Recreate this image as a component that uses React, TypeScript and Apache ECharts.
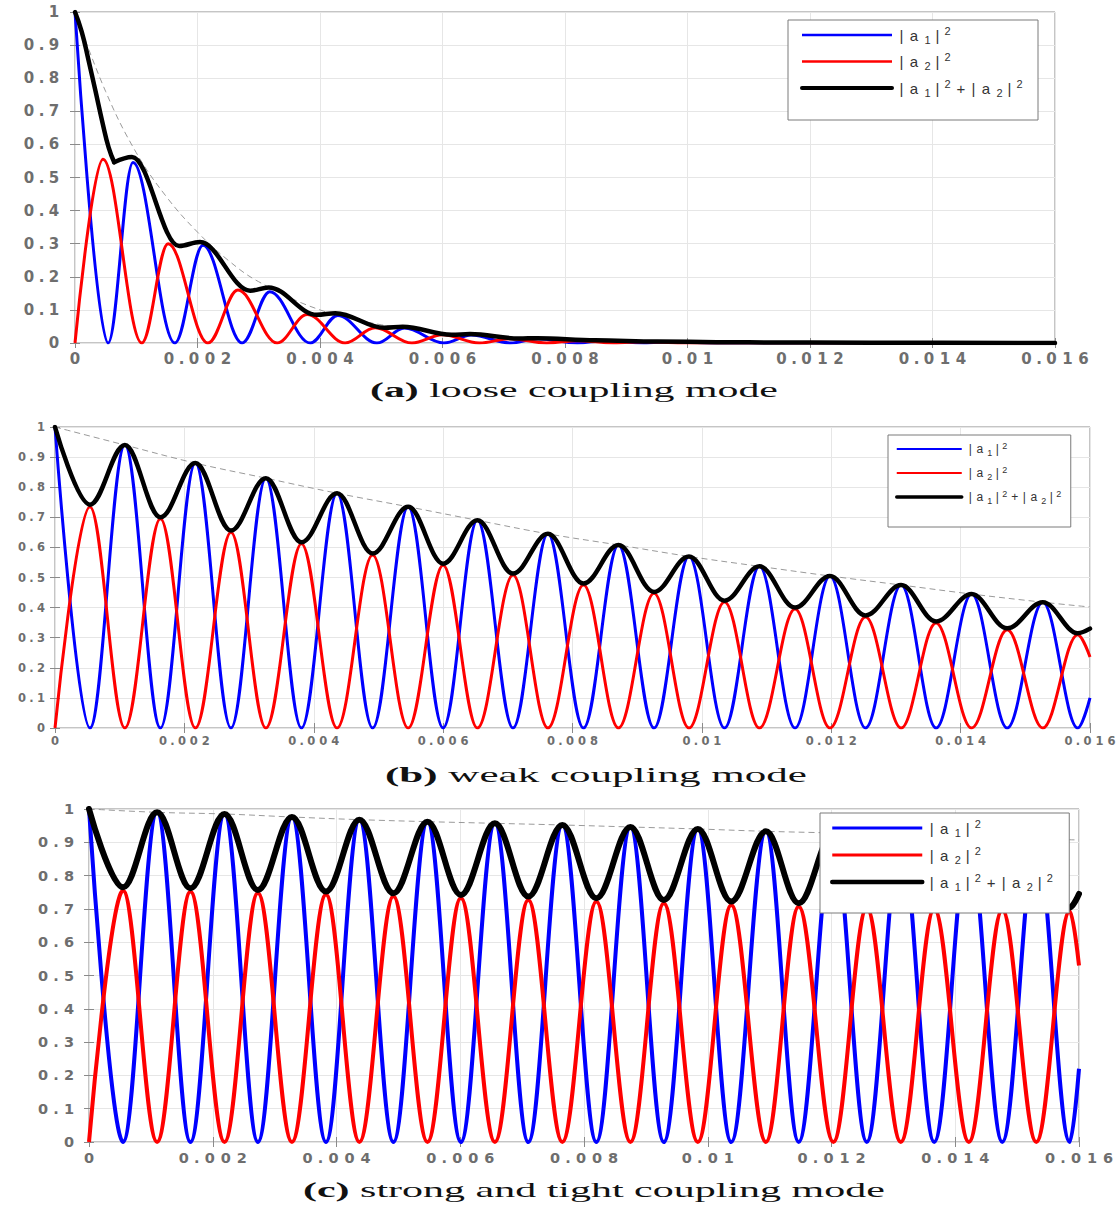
import React, { useEffect, useRef } from "react";
import * as echarts from "echarts";

// ---------------- shared axis ranges ----------------
const X_MIN = 0;
const X_MAX = 0.016;
const X_STEP = 0.002;
const Y_MIN = 0;
const Y_MAX = 1;
const Y_STEP = 0.1;

const LABELS: Record<string, string> = {
  a1: "|a₁|²",
  a2: "|a₂|²",
  sum: "|a₁|²+|a₂|²",
};

const CAPTIONS = [
  { tag: "(a)", text: " loose coupling mode" },
  { tag: "(b)", text: " weak coupling mode" },
  { tag: "(c)", text: " strong and tight coupling mode" },
];

// value at which the oscillating curves touch the axis (read: 0)
const TROUGH = 0;

// ---------------- panel (a): loose coupling ----------------
const aBluePeakX = [0, 0.000947, 0.00209, 0.00318, 0.00429, 0.00538, 0.00647, 0.00756, 0.00865, 0.00974];
const aBluePeakY = [1, 0.545, 0.295, 0.155, 0.083, 0.045, 0.024, 0.013, 0.007, 0.004];
const aBlueTroughX = [0.00054, 0.00163, 0.00273, 0.00384, 0.00493, 0.00602, 0.00711, 0.0082, 0.00929, 0.01038];
const aRedPeakX = [0.000457, 0.00152, 0.00266, 0.00379, 0.0049, 0.006, 0.0071, 0.0082, 0.0093];
const aRedPeakY = [0.555, 0.3, 0.16, 0.086, 0.046, 0.025, 0.013, 0.007, 0.004];
const aRedTroughX = [0, 0.00109, 0.00217, 0.0033, 0.00441, 0.0055, 0.0066, 0.0077, 0.0088, 0.0099];
const aEnd = { blue: 0, red: 0 };
// steep initial fall of |a1|²+|a2|²
const aBlackHeadX = [0, 0.00011, 0.00022, 0.00033, 0.00045, 0.00055, 0.00064];
const aBlackHeadY = [1, 0.94, 0.855, 0.765, 0.665, 0.59, 0.546];
// plateaus / steps of |a1|²+|a2|² afterwards (local extrema)
const aBlackX = [0.00064, 0.00093, 0.0017, 0.00204, 0.00286, 0.00316, 0.00395, 0.00425, 0.00505, 0.00535, 0.00615, 0.00645, 0.00725, 0.00755, 0.0085, 0.0095, 0.011, 0.013, 0.016];
const aBlackY = [0.546, 0.562, 0.293, 0.305, 0.158, 0.168, 0.085, 0.09, 0.046, 0.049, 0.025, 0.027, 0.0135, 0.0145, 0.008, 0.0045, 0.002, 0.0008, 0.0002];
const aEnvX = [0, 0.0005, 0.001, 0.0015, 0.002, 0.0025, 0.003, 0.004, 0.005, 0.006, 0.007, 0.008, 0.01, 0.012, 0.016];
const aEnvY = [1, 0.76, 0.575, 0.44, 0.335, 0.25, 0.185, 0.1, 0.055, 0.031, 0.017, 0.009, 0.003, 0.001, 0];

// ---------------- panel (b): weak coupling ----------------
const bBluePeakX = [0, 0.00108, 0.00217, 0.00326, 0.00436, 0.00546, 0.00653, 0.00762, 0.00871, 0.0098, 0.01089, 0.01198, 0.01308, 0.01417, 0.01527];
const bBluePeakY = [1, 0.94, 0.88, 0.83, 0.78, 0.735, 0.69, 0.645, 0.608, 0.57, 0.537, 0.505, 0.475, 0.445, 0.418];
const bRedPeakX = [0.00054, 0.00163, 0.00272, 0.00381, 0.00491, 0.006, 0.00708, 0.00817, 0.00926, 0.01035, 0.01144, 0.01253, 0.01362, 0.01472, 0.01581];
const bRedPeakY = [0.735, 0.695, 0.65, 0.612, 0.575, 0.541, 0.508, 0.475, 0.448, 0.419, 0.395, 0.369, 0.349, 0.326, 0.31];
const bBlackTroughY = [0.742, 0.7, 0.656, 0.617, 0.58, 0.546, 0.513, 0.48, 0.452, 0.423, 0.4, 0.374, 0.354, 0.331, 0.315];
const bEnd = { blue: 0.1, red: 0.236, black: 0.33, env: 0.402 };

// ---------------- panel (c): strong and tight coupling ----------------
const cBluePeakX = [0, 0.0011, 0.00219, 0.00328, 0.00437, 0.00547, 0.00656, 0.00765, 0.00875, 0.00984, 0.01094, 0.01203, 0.01312, 0.01422, 0.01531];
const cBluePeakY = [1, 0.99, 0.985, 0.976, 0.968, 0.962, 0.957, 0.952, 0.946, 0.94, 0.933, 0.928, 0.922, 0.916, 0.91];
const cRedPeakX = [0.00055, 0.00164, 0.00273, 0.00383, 0.00492, 0.00601, 0.0071, 0.0082, 0.00929, 0.01038, 0.01147, 0.01257, 0.01366, 0.01476, 0.01585];
const cRedPeakY = [0.755, 0.752, 0.748, 0.743, 0.738, 0.733, 0.727, 0.722, 0.717, 0.712, 0.707, 0.703, 0.7, 0.697, 0.694];
const cBlackTroughY = [0.765, 0.762, 0.757, 0.752, 0.747, 0.742, 0.737, 0.732, 0.727, 0.722, 0.717, 0.713, 0.71, 0.707, 0.704];
const cEnd = { blue: 0.22, red: 0.53, black: 0.745, env: 0.907 };

// ---------------- helpers ----------------
type Pt = [number, number];
const zip = (xs: number[], ys: number[]): Pt[] => xs.map((x, i) => [x, ys[i]] as Pt);
const atAxis = (xs: number[]): Pt[] => xs.map((x) => [x, TROUGH] as Pt);
const merge = (...parts: Pt[][]): Pt[] => parts.flat().sort((p, q) => p[0] - q[0]);

const spreadTick = (s: string) =>
  s
    .split("")
    .map((c) => (c === "." ? `{p|.}` : `{d|${c}}`))
    .join("");
const fmtTick = (v: number) => spreadTick(String(parseFloat(v.toFixed(6))));

const legendToken = (c: string) => {
  if (c === "|") return "{bar||}";
  if (c === "+") return "{plus|+}";
  if (c === "₁") return "{sub|1}";
  if (c === "₂") return "{sub|2}";
  if (c === "²") return "{sup|2}";
  return `{m|${c}}`;
};
const spreadLegend = (s: string) => s.split("").map(legendToken).join("");

const TICK_COLOR = "#6e6e6e";
const TICK_FONT = "'DejaVu Sans', sans-serif";
const LEGEND_FONT = "'Liberation Sans', Arial, sans-serif";

function measure(font: string, s: string) {
  const ctx = document.createElement("canvas").getContext("2d");
  if (!ctx) return s.length * 10;
  ctx.font = font;
  return ctx.measureText(s).width;
}

const PANELS = [
  {
    grid: { left: 75, top: 12, width: 980, height: 331 },
    font: 15, dw: 16, pw: 9, yMargin: 13, xMargin: 8,
    thin: 3, thick: 4.5,
    legend: {
      left: 788, top: 20, itemWidth: 90, itemHeight: 14, lineH: 20, itemGap: 6.5, padding: [5, 13, 22, 12],
      fs: 15, sfs: 11, w: { m: 16, bar: 9, sub: 11, sup: 11, plus: 16 }, thin: 2.5, thick: 4,
    },
    caption: { left: 370, width: 408, y: 390 },
  },
  {
    grid: { left: 55, top: 427, width: 1035, height: 301 },
    font: 11.5, dw: 12, pw: 7, yMargin: 8, xMargin: 7,
    thin: 3, thick: 4.5,
    legend: {
      left: 888, top: 435, itemWidth: 65, itemHeight: 12, lineH: 16, itemGap: 8, padding: [6, 8, 22, 7],
      fs: 12, sfs: 9, w: { m: 12, bar: 7, sub: 8, sup: 8, plus: 12 }, thin: 2, thick: 3.5,
    },
    caption: { left: 385, width: 422, y: 775 },
  },
  {
    grid: { left: 89, top: 809, width: 990, height: 333 },
    font: 14.5, dw: 16, pw: 10, yMargin: 12, xMargin: 8,
    thin: 4, thick: 6,
    legend: {
      left: 820, top: 813, itemWidth: 90, itemHeight: 14, lineH: 20, itemGap: 7, padding: [5, 14, 21, 10],
      fs: 15, sfs: 11, w: { m: 16, bar: 9, sub: 11, sup: 11, plus: 16 }, thin: 3, thick: 4.5,
    },
    caption: { left: 303, width: 582, y: 1190 },
  },
];

function buildOption() {
  const panelData = [
    {
      blue: merge(zip(aBluePeakX, aBluePeakY), atAxis(aBlueTroughX), [[X_MAX, aEnd.blue]]),
      red: merge(zip(aRedPeakX, aRedPeakY), atAxis(aRedTroughX), [[X_MAX, aEnd.red]]),
      black: zip(aBlackX, aBlackY),
      blackHead: zip(aBlackHeadX, aBlackHeadY),
      env: zip(aEnvX, aEnvY),
    },
    {
      blue: merge(zip(bBluePeakX, bBluePeakY), atAxis(bRedPeakX), [[X_MAX, bEnd.blue]]),
      red: merge(zip(bRedPeakX, bRedPeakY), atAxis(bBluePeakX), [[X_MAX, bEnd.red]]),
      black: merge(zip(bBluePeakX, bBluePeakY), zip(bRedPeakX, bBlackTroughY), [[X_MAX, bEnd.black]]),
      blackHead: null as Pt[] | null,
      env: merge(zip(bBluePeakX, bBluePeakY), [[X_MAX, bEnd.env]]),
    },
    {
      blue: merge(zip(cBluePeakX, cBluePeakY), atAxis(cRedPeakX), [[X_MAX, cEnd.blue]]),
      red: merge(zip(cRedPeakX, cRedPeakY), atAxis(cBluePeakX), [[X_MAX, cEnd.red]]),
      black: merge(zip(cBluePeakX, cBluePeakY), zip(cRedPeakX, cBlackTroughY), [[X_MAX, cEnd.black]]),
      blackHead: null as Pt[] | null,
      env: merge(zip(cBluePeakX, cBluePeakY), [[X_MAX, cEnd.env]]),
    },
  ];

  const grids: any[] = [];
  const xAxes: any[] = [];
  const yAxes: any[] = [];
  const series: any[] = [];
  const legends: any[] = [];
  const graphics: any[] = [];
  const panelIds = ["a", "b", "c"];
  const tickLine = { color: "#8a8a8a" };

  PANELS.forEach((p, i) => {
    grids.push({
      ...p.grid,
      show: true,
      borderColor: "#8a8a8a",
      borderWidth: 1,
      backgroundColor: "#ffffff",
    });
    const rich = {
      d: { width: p.dw, align: "center", fontSize: p.font, color: TICK_COLOR, fontWeight: "bold", fontFamily: TICK_FONT },
      p: { width: p.pw, align: "center", fontSize: p.font, color: TICK_COLOR, fontWeight: "bold", fontFamily: TICK_FONT },
    };
    xAxes.push({
      type: "value",
      gridIndex: i,
      min: X_MIN,
      max: X_MAX,
      interval: X_STEP,
      axisLine: { show: false },
      axisTick: { show: true, inside: true, length: 5, lineStyle: tickLine },
      splitLine: { show: true, lineStyle: { color: "#e6e6e6", width: 1 } },
      axisLabel: { margin: p.xMargin, formatter: fmtTick, rich, showMinLabel: true, showMaxLabel: true },
    });
    yAxes.push({
      type: "value",
      gridIndex: i,
      min: Y_MIN,
      max: Y_MAX,
      interval: Y_STEP,
      axisLine: { show: false },
      axisTick: { show: true, inside: true, length: 5, lineStyle: tickLine },
      splitLine: { show: true, lineStyle: { color: "#e6e6e6", width: 1 } },
      axisLabel: { margin: p.yMargin, formatter: fmtTick, rich, showMinLabel: true, showMaxLabel: true },
    });
  });
  // opposite-side tick marks (boxed axes)
  PANELS.forEach((_p, i) => {
    xAxes.push({
      type: "value", gridIndex: i, position: "top", min: X_MIN, max: X_MAX, interval: X_STEP,
      axisLine: { show: false }, axisLabel: { show: false }, splitLine: { show: false },
      axisTick: { show: true, inside: true, length: 5, lineStyle: tickLine },
    });
    yAxes.push({
      type: "value", gridIndex: i, position: "right", min: Y_MIN, max: Y_MAX, interval: Y_STEP,
      axisLine: { show: false }, axisLabel: { show: false }, splitLine: { show: false },
      axisTick: { show: true, inside: true, length: 5, lineStyle: tickLine },
    });
  });

  panelData.forEach((d, i) => {
    const p = PANELS[i];
    const id = panelIds[i];
    const common = {
      type: "line",
      xAxisIndex: i,
      yAxisIndex: i,
      symbol: "none",
      showSymbol: false,
      silent: true,
      clip: true,
    };
    series.push({
      ...common,
      name: `env-${id}`,
      data: d.env,
      smooth: 0.4,
      z: 1,
      itemStyle: { color: "#999999" },
      lineStyle: { color: "#9a9a9a", width: 1, type: [6, 4] },
    });
    series.push({
      ...common,
      name: `a1-${id}`,
      data: d.blue,
      smooth: 0.36,
      smoothMonotone: "x",
      itemStyle: { color: "#0000ff" },
      lineStyle: { color: "#0000ff", width: p.thin },
    });
    series.push({
      ...common,
      name: `a2-${id}`,
      data: d.red,
      smooth: 0.36,
      smoothMonotone: "x",
      itemStyle: { color: "#ff0000" },
      lineStyle: { color: "#ff0000", width: p.thin },
    });
    if (d.blackHead) {
      series.push({
        ...common,
        name: `sumhead-${id}`,
        data: d.blackHead,
        smooth: 0.5,
        itemStyle: { color: "#000000" },
        lineStyle: { color: "#000000", width: p.thick, cap: "round" },
      });
    }
    series.push({
      ...common,
      name: `sum-${id}`,
      data: d.black,
      smooth: 0.36,
      smoothMonotone: "x",
      itemStyle: { color: "#000000" },
      lineStyle: { color: "#000000", width: p.thick, cap: "round" },
    });

    const L = p.legend;
    const base = { align: "center", color: "#333333", fontFamily: LEGEND_FONT };
    const lrich: any = {
      m: { ...base, width: L.w.m, fontSize: L.fs, lineHeight: L.lineH, verticalAlign: "middle" },
      bar: { ...base, width: L.w.bar, fontSize: L.fs, lineHeight: L.lineH, verticalAlign: "middle" },
      plus: { ...base, width: L.w.plus, fontSize: L.fs, lineHeight: L.lineH, verticalAlign: "middle" },
      sub: { ...base, width: L.w.sub, fontSize: L.sfs, lineHeight: L.sfs, verticalAlign: "bottom" },
      sup: { ...base, width: L.w.sup, fontSize: L.sfs, lineHeight: L.sfs, verticalAlign: "top" },
    };
    legends.push({
      orient: "vertical",
      left: L.left,
      top: L.top,
      itemWidth: L.itemWidth,
      itemHeight: L.itemHeight,
      itemGap: L.itemGap,
      padding: L.padding,
      backgroundColor: "#ffffff",
      borderColor: "#7a7a7a",
      borderWidth: 1,
      selectedMode: false,
      itemStyle: { opacity: 0, borderWidth: 0 },
      data: [
        { name: `a1-${id}`, lineStyle: { color: "#0000ff", width: L.thin } },
        { name: `a2-${id}`, lineStyle: { color: "#ff0000", width: L.thin } },
        { name: `sum-${id}`, lineStyle: { color: "#000000", width: L.thick } },
      ],
      formatter: (name: string) => spreadLegend(LABELS[name.split("-")[0]]),
      textStyle: { rich: lrich, fontSize: L.fs, lineHeight: L.lineH },
    });

    const cap = CAPTIONS[i];
    const fs = 21;
    const natural =
      measure(`bold ${fs}px "Liberation Serif"`, cap.tag) + measure(`${fs}px "Liberation Serif"`, cap.text);
    graphics.push({
      type: "text",
      x: p.caption.left,
      y: p.caption.y,
      scaleX: p.caption.width / natural,
      silent: true,
      style: {
        text: `{t|${cap.tag}}{n|${cap.text}}`,
        verticalAlign: "middle",
        align: "left",
        rich: {
          t: { fontFamily: "'Liberation Serif', serif", fontWeight: "bold", fontSize: fs, fill: "#111" },
          n: { fontFamily: "'Liberation Serif', serif", fontSize: fs, fill: "#111" },
        },
      },
    });
  });

  return {
    animation: false,
    backgroundColor: "#ffffff",
    grid: grids,
    xAxis: xAxes,
    yAxis: yAxes,
    legend: legends,
    series,
    graphic: graphics,
  };
}

export default function App() {
  const ref = useRef<HTMLDivElement>(null);
  useEffect(() => {
    document.body.style.margin = "0";
    if (!ref.current) return;
    const chart = echarts.init(ref.current, undefined, { renderer: "svg" });
    chart.setOption(buildOption() as any);
    return () => chart.dispose();
  }, []);
  return <div ref={ref} style={{ width: 1119, height: 1205 }} />;
}
